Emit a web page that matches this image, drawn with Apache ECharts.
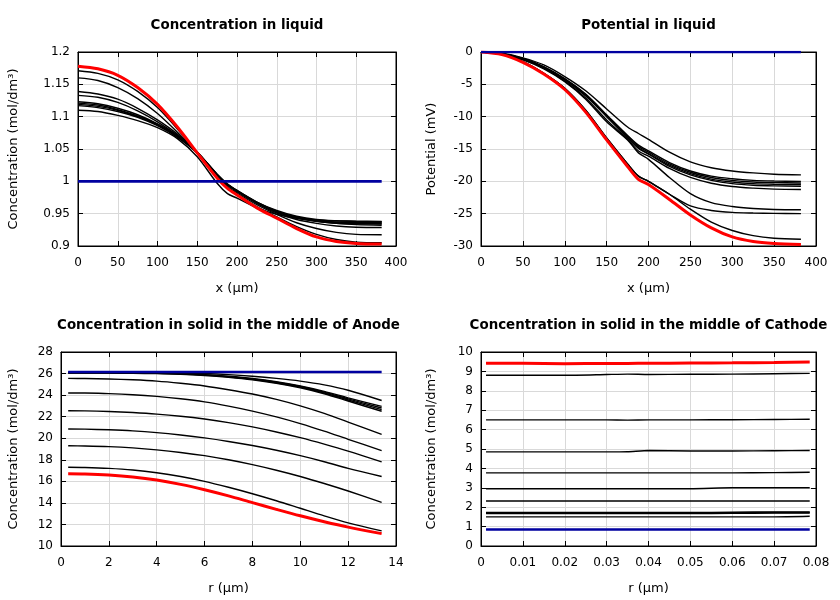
<!DOCTYPE html>
<html><head><meta charset="utf-8">
<script src="https://cdn.jsdelivr.net/npm/echarts@6/dist/echarts.min.js"></script>
<style>html,body{margin:0;padding:0;background:#fff}#c{width:840px;height:600px}</style>
</head><body><div id="c"></div>
<script>
// ---------- Panel 1: Concentration in liquid ----------
const X_LIQ = [0, 25, 50, 75, 100, 125, 150, 175, 188, 200, 225, 250, 275, 300, 325, 350, 382];
const CL_BLUE = [1, 1, 1, 1, 1, 1, 1, 1, 1, 1, 1, 1, 1, 1, 1, 1, 1];
const CL_RED = [1.178, 1.174, 1.164, 1.145, 1.119, 1.084, 1.044, 1.005, 0.989, 0.979, 0.959, 0.943, 0.927, 0.914, 0.907, 0.904, 0.903];
const CL_K1 = [1.171, 1.167, 1.157, 1.139, 1.114, 1.081, 1.044, 1.006, 0.990, 0.980, 0.961, 0.945, 0.930, 0.918, 0.910, 0.906, 0.905];
const CL_K2 = [1.160, 1.156, 1.145, 1.128, 1.105, 1.076, 1.044, 1.008, 0.992, 0.982, 0.964, 0.949, 0.936, 0.927, 0.921, 0.918, 0.9175];
const CL_K3 = [1.139, 1.135, 1.127, 1.113, 1.095, 1.073, 1.045, 1.009, 0.994, 0.984, 0.966, 0.951, 0.941, 0.935, 0.931, 0.929, 0.9285];
const CL_K4 = [1.133, 1.130, 1.122, 1.109, 1.092, 1.071, 1.045, 1.010, 0.995, 0.985, 0.967, 0.953, 0.943, 0.938, 0.935, 0.933, 0.932];
const CL_B1 = [1.123, 1.120, 1.113, 1.103, 1.089, 1.071, 1.045, 1.011, 0.996, 0.986, 0.968, 0.955, 0.946, 0.941, 0.939, 0.938, 0.9375];
const CL_B2 = [1.121, 1.118, 1.111, 1.101, 1.088, 1.070, 1.045, 1.011, 0.996, 0.986, 0.968, 0.954, 0.945, 0.940, 0.937, 0.936, 0.9360];
const CL_B3 = [1.119, 1.116, 1.110, 1.100, 1.087, 1.069, 1.044, 1.010, 0.995, 0.985, 0.967, 0.953, 0.944, 0.939, 0.936, 0.935, 0.9348];
const CL_B4 = [1.117, 1.114, 1.108, 1.099, 1.086, 1.068, 1.044, 1.010, 0.995, 0.985, 0.967, 0.953, 0.944, 0.938, 0.935, 0.934, 0.9338];
const CL_K5 = [1.110, 1.108, 1.102, 1.094, 1.083, 1.066, 1.038, 0.997, 0.981, 0.974, 0.959, 0.949, 0.943, 0.940, 0.939, 0.9385, 0.938];

// ---------- Panel 2: Potential in liquid ----------
const PL_BLUE = [0, 0, 0, 0, 0, 0, 0, 0, 0, 0, 0, 0, 0, 0, 0, 0, 0];
const PL_RED = [0, -0.4, -1.6, -3.4, -5.8, -9.3, -13.6, -17.7, -19.7, -20.5, -22.8, -25.2, -27.2, -28.6, -29.3, -29.6, -29.75];
const PL_K1 = [0, -0.35, -1.5, -3.3, -5.6, -9.0, -13.3, -17.3, -19.2, -20.0, -22.0, -24.3, -26.3, -27.6, -28.4, -28.8, -28.95];
const PL_K2 = [0, -0.35, -1.5, -3.3, -5.6, -9.0, -13.3, -17.3, -19.2, -20.0, -22.0, -23.8, -24.5, -24.8, -24.9, -24.95, -25.0];
const PL_K3 = [0, -0.3, -1.2, -2.6, -4.6, -7.3, -10.8, -13.6, -15.6, -16.6, -19.4, -21.9, -23.3, -23.9, -24.2, -24.35, -24.4];
const PL_K4 = [0, -0.3, -1.15, -2.5, -4.5, -7.1, -10.5, -13.5, -15.3, -16.1, -18.0, -19.4, -20.3, -20.8, -21.05, -21.2, -21.27];
const PL_B1 = [0, -0.25, -1.0, -2.3, -4.1, -6.5, -9.7, -12.9, -14.4, -15.3, -17.1, -18.4, -19.2, -19.6, -19.85, -19.95, -20.0];
const PL_B2 = [0, -0.25, -1.0, -2.3, -4.2, -6.6, -9.8, -13.0, -14.6, -15.5, -17.3, -18.6, -19.4, -19.85, -20.1, -20.2, -20.25];
const PL_B3 = [0, -0.25, -1.05, -2.35, -4.25, -6.7, -9.9, -13.2, -14.8, -15.7, -17.5, -18.8, -19.65, -20.1, -20.35, -20.45, -20.5];
const PL_B4 = [0, -0.27, -1.1, -2.4, -4.3, -6.8, -10.0, -13.3, -14.9, -15.8, -17.7, -19.0, -19.85, -20.35, -20.6, -20.7, -20.75];
const PL_K5 = [0, -0.2, -0.9, -2.0, -3.8, -6.0, -8.8, -11.6, -12.6, -13.5, -15.5, -17.0, -17.9, -18.4, -18.7, -18.9, -19.0];

// ---------- Panel 3: Anode solid ----------
const R_AN = [0.3, 1, 2, 3, 4, 5, 6, 7, 8, 9, 10, 11, 12, 13.4];
const AN_BLUE = [26.15, 26.15, 26.15, 26.15, 26.15, 26.15, 26.15, 26.15, 26.15, 26.15, 26.15, 26.15, 26.15, 26.15];
const AN_T0 = [26.1, 26.1, 26.1, 26.1, 26.08, 26.05, 26.0, 25.9, 25.75, 25.55, 25.3, 24.95, 24.45, 23.5];
const AN_T1 = [26.1, 26.1, 26.1, 26.08, 26.05, 26.0, 25.9, 25.75, 25.55, 25.25, 24.85, 24.35, 23.75, 22.95];
const AN_T2 = [26.1, 26.1, 26.09, 26.07, 26.04, 25.98, 25.88, 25.72, 25.5, 25.2, 24.8, 24.28, 23.65, 22.8];
const AN_T3 = [26.08, 26.08, 26.07, 26.05, 26.02, 25.96, 25.85, 25.69, 25.47, 25.15, 24.74, 24.2, 23.55, 22.65];
const AN_T4 = [26.05, 26.05, 26.04, 26.02, 25.99, 25.93, 25.82, 25.65, 25.42, 25.1, 24.68, 24.13, 23.45, 22.5];
const AN_K1 = [25.55, 25.54, 25.5, 25.42, 25.3, 25.1, 24.85, 24.5, 24.1, 23.6, 23.0, 22.3, 21.5, 20.35];
const AN_K2 = [24.2, 24.19, 24.14, 24.04, 23.88, 23.66, 23.37, 22.98, 22.52, 21.98, 21.36, 20.66, 19.9, 18.85];
const AN_K3 = [22.55, 22.54, 22.48, 22.38, 22.24, 22.04, 21.78, 21.45, 21.05, 20.58, 20.05, 19.45, 18.8, 17.8];
const AN_K4 = [20.85, 20.84, 20.78, 20.68, 20.52, 20.3, 20.03, 19.7, 19.32, 18.88, 18.38, 17.82, 17.2, 16.45];
const AN_K5 = [19.3, 19.28, 19.22, 19.1, 18.92, 18.68, 18.38, 18.0, 17.55, 17.03, 16.45, 15.8, 15.1, 14.05];
const AN_K6 = [17.3, 17.28, 17.2, 17.05, 16.8, 16.45, 16.0, 15.45, 14.85, 14.2, 13.5, 12.8, 12.15, 11.4];
const AN_RED = [16.7, 16.68, 16.58, 16.4, 16.12, 15.72, 15.22, 14.65, 14.02, 13.4, 12.8, 12.25, 11.75, 11.15];

// ---------- Panel 4: Cathode solid ----------
const R_CA = [0.0012, 0.01, 0.02, 0.03, 0.035, 0.04, 0.05, 0.06, 0.07, 0.0785];
const CA_RED = [9.42, 9.42, 9.40, 9.41, 9.41, 9.42, 9.43, 9.44, 9.46, 9.48];
const CA_K1 = [8.80, 8.80, 8.80, 8.84, 8.86, 8.84, 8.85, 8.86, 8.88, 8.90];
const CA_K2 = [6.50, 6.50, 6.50, 6.50, 6.49, 6.50, 6.50, 6.51, 6.52, 6.53];
const CA_K3 = [4.85, 4.85, 4.85, 4.85, 4.86, 4.92, 4.90, 4.90, 4.91, 4.92];
const CA_K4 = [3.77, 3.77, 3.77, 3.77, 3.77, 3.77, 3.77, 3.77, 3.78, 3.80];
const CA_K5 = [2.95, 2.95, 2.95, 2.95, 2.95, 2.95, 2.95, 3.00, 3.00, 3.00];
const CA_K6 = [2.32, 2.32, 2.32, 2.32, 2.32, 2.32, 2.32, 2.32, 2.32, 2.32];
const CA_K7 = [1.73, 1.73, 1.73, 1.73, 1.73, 1.73, 1.73, 1.74, 1.76, 1.76];
const CA_K8 = [1.70, 1.70, 1.70, 1.70, 1.70, 1.70, 1.70, 1.71, 1.73, 1.73];
const CA_K9 = [1.67, 1.67, 1.67, 1.67, 1.67, 1.67, 1.67, 1.68, 1.70, 1.70];
const CA_K10 = [1.50, 1.50, 1.50, 1.50, 1.50, 1.50, 1.50, 1.50, 1.50, 1.53];
const CA_BLUE = [0.85, 0.85, 0.85, 0.85, 0.85, 0.85, 0.85, 0.85, 0.85, 0.85];

// ---------- Titles / labels ----------
const TITLES = ['Concentration in liquid', 'Potential in liquid', 'Concentration in solid in the middle of Anode', 'Concentration in solid in the middle of Cathode'];
const XNAMES = ['x (μm)', 'x (μm)', 'r (μm)', 'r (μm)'];
const YNAMES = ['Concentration (mol/dm³)', 'Potential (mV)', 'Concentration (mol/dm³)', 'Concentration (mol/dm³)'];

const FONT = 'DejaVu Sans';
const BLACK = '#000000', RED = '#ff0000', BLUE = '#0000a0';

const GRIDS = [
  {left: 78, top: 52, width: 318, height: 194},
  {left: 481, top: 52, width: 335, height: 194},
  {left: 61, top: 352, width: 335, height: 194},
  {left: 481, top: 352, width: 335, height: 194}
];
const XR = [{min: 0, max: 400, interval: 50}, {min: 0, max: 400, interval: 50}, {min: 0, max: 14, interval: 2}, {min: 0, max: 0.08, interval: 0.01}];
const YR = [{min: 0.9, max: 1.2, interval: 0.05}, {min: -30, max: 0, interval: 5}, {min: 10, max: 28, interval: 2}, {min: 0, max: 10, interval: 1}];
const YGAP = [58, 43, 41, 43];

const fmt = v => String(+v.toFixed(4));

const option = {animation: false, backgroundColor: '#fff', title: [], grid: [], xAxis: [], yAxis: [], series: []};

for (let g = 0; g < 4; g++) {
  const gr = GRIDS[g];
  option.grid.push(Object.assign({show: true, borderColor: '#000', borderWidth: 1, backgroundColor: 'transparent', containLabel: false}, gr));
  option.title.push({text: TITLES[g], left: gr.left + gr.width / 2 - 5, top: gr.top - 38, textAlign: 'center',
    textStyle: {fontFamily: FONT, fontWeight: 'bold', fontSize: 13.4, color: '#000'}});
  const base = {gridIndex: g, type: 'value', axisLine: {show: true, onZero: false, lineStyle: {color: '#000', width: 1}},
    axisTick: {show: true, inside: true, length: 5, lineStyle: {color: '#000'}}};
  option.xAxis.push(Object.assign({}, base, XR[g], {position: 'bottom', name: XNAMES[g], nameLocation: 'middle', nameGap: 36,
    nameTextStyle: {fontFamily: FONT, fontSize: 13, color: '#000'},
    axisLabel: {fontFamily: FONT, fontSize: 12, color: '#000', margin: 11, formatter: fmt},
    splitLine: {show: true, lineStyle: {color: '#d9d9d9', width: 1}}}));
  option.xAxis.push(Object.assign({}, base, XR[g], {position: 'top', axisLabel: {show: false}, splitLine: {show: false}}));
  option.yAxis.push(Object.assign({}, base, YR[g], {position: 'left', name: YNAMES[g], nameLocation: 'middle', nameGap: YGAP[g],
    nameTextStyle: {fontFamily: FONT, fontSize: 13, color: '#000'},
    axisLabel: {fontFamily: FONT, fontSize: 12, color: '#000', margin: 8, formatter: fmt},
    splitLine: {show: true, lineStyle: {color: '#d9d9d9', width: 1}}}));
  option.yAxis.push(Object.assign({}, base, YR[g], {position: 'right', axisLabel: {show: false}, splitLine: {show: false}}));
}

function add(g, xs, ys, color, width, z, smooth) {
  option.series.push({type: 'line', xAxisIndex: g * 2, yAxisIndex: g * 2, symbol: 'none', smooth: smooth,
    data: xs.map((x, i) => [x, ys[i]]), lineStyle: {color: color, width: width}, z: z, silent: true});
}

[CL_K5, CL_B4, CL_B3, CL_B2, CL_B1, CL_K4, CL_K3, CL_K2, CL_K1].forEach(s => add(0, X_LIQ, s, BLACK, 1.4, 2, 0.3));
add(0, X_LIQ, CL_RED, RED, 3, 3, 0.3);
add(0, X_LIQ, CL_BLUE, BLUE, 2.6, 4, false);

[PL_K5, PL_B1, PL_B2, PL_B3, PL_B4, PL_K4, PL_K3, PL_K2, PL_K1].forEach(s => add(1, X_LIQ, s, BLACK, 1.4, 2, 0.3));
add(1, X_LIQ, PL_RED, RED, 3, 3, 0.3);
add(1, X_LIQ, PL_BLUE, BLUE, 2.6, 4, false);

[AN_T0, AN_T1, AN_T2, AN_T3, AN_T4, AN_K1, AN_K2, AN_K3, AN_K4, AN_K5, AN_K6].forEach(s => add(2, R_AN, s, BLACK, 1.4, 2, 0.3));
add(2, R_AN, AN_RED, RED, 3, 3, 0.3);
add(2, R_AN, AN_BLUE, BLUE, 2.6, 4, false);

[CA_K1, CA_K2, CA_K3, CA_K4, CA_K5, CA_K6, CA_K7, CA_K8, CA_K9, CA_K10].forEach(s => add(3, R_CA, s, BLACK, 1.4, 2, 0.2));
add(3, R_CA, CA_RED, RED, 3, 3, 0.2);
add(3, R_CA, CA_BLUE, BLUE, 2.6, 4, false);

const chart = echarts.init(document.getElementById('c'), null, {renderer: 'canvas'});
chart.setOption(option);
</script></body></html>
